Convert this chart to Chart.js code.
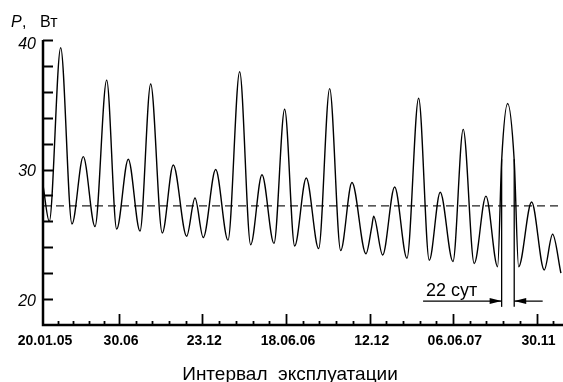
<!DOCTYPE html>
<html>
<head>
<meta charset="utf-8">
<script src="https://cdn.jsdelivr.net/npm/chart.js@4.4.0/dist/chart.umd.min.js"></script>
<style>
  html, body { margin: 0; padding: 0; background: #fff; }
  #wrap { width: 563px; height: 382px; position: relative; }
</style>
</head>
<body>
<div id="wrap"><canvas id="chart"></canvas></div>
<script>
const days = [0, 13.3, 37.4, 61.3, 85.2, 110, 134.7, 155.9, 180.4, 205.2,
  227.8, 252.3, 275.6, 303.9, 321.5, 339, 365.3, 391.3, 416, 439.3,
  463.2, 488.6, 511.2, 532.4, 556.9, 583.1, 606.4, 629.7, 653.6, 683.2,
  695.5, 699.4, 718.5, 743.9, 769.9, 794.6, 817.1, 840.3, 867.2, 888.9,
  912.2, 937, 961.7, 970.2, 982.9, 996.8, 1006.1, 1033.6, 1060.3, 1078, 1095.6];
const power = [28.8, 26.0, 39.4, 25.8, 31.0, 25.6, 36.9, 25.4, 30.8, 25.25,
  36.6, 25.1, 30.35, 24.85, 27.8, 24.75, 30.0, 24.55, 37.55, 24.2,
  29.6, 24.3, 34.65, 24.1, 29.35, 23.9, 36.25, 23.75, 29.0, 23.5,
  25.6, 26.4, 23.4, 28.65, 23.15, 35.5, 23.0, 28.25, 22.9, 33.1,
  22.75, 27.95, 22.5, 30.7, 35.1, 30.7, 22.5, 27.5, 22.25, 25.0, 22.0];
const meanPower = 27.2;

const tickDays = [0, 161, 337, 514, 691, 867, 1044];
const tickLabels = ["20.01.05", "30.06", "23.12", "18.06.06", "12.12", "06.06.07", "30.11"];
const yLabels = [20, 30, 40];

const periodMarks = [970.2, 996.8];
const periodText = "22 сут";

const FONT = "'Liberation Sans', Arial, sans-serif";

const axesPlugin = {
  id: "axesPlugin",
  afterDraw(chart) {
    const { ctx, chartArea: a, scales: { x, y } } = chart;
    ctx.save();
    ctx.strokeStyle = "#000";
    ctx.fillStyle = "#000";

    // axis lines
    ctx.lineWidth = 2.5;
    ctx.beginPath();
    ctx.moveTo(a.left, a.top);
    ctx.lineTo(a.left, a.bottom);
    ctx.lineTo(a.right, a.bottom);
    ctx.stroke();

    // y ticks (inward)
    ctx.lineWidth = 2;
    for (let v = 20; v <= 40; v += 2) {
      const py = Math.round(y.getPixelForValue(v)) + 0.5;
      ctx.beginPath();
      ctx.moveTo(a.left, py);
      ctx.lineTo(a.left + 10, py);
      ctx.stroke();
    }

    // x ticks: major + 4 minor per interval
    const minor = [];
    for (let i = 0; i < tickDays.length - 1; i++) {
      const step = (tickDays[i + 1] - tickDays[i]) / 5;
      for (let k = 1; k < 5; k++) minor.push(tickDays[i] + k * step);
    }
    const lastStep = (tickDays[tickDays.length - 1] - tickDays[tickDays.length - 2]) / 5;
    for (let d = tickDays[tickDays.length - 1] + lastStep; d < x.max; d += lastStep) minor.push(d);
    ctx.lineWidth = 1.8;
    minor.forEach(d => {
      const px = Math.round(x.getPixelForValue(d)) + 0.5;
      ctx.beginPath();
      ctx.moveTo(px, a.bottom);
      ctx.lineTo(px, a.bottom - 4);
      ctx.stroke();
    });
    tickDays.slice(1).forEach(d => {
      const px = Math.round(x.getPixelForValue(d)) + 0.5;
      ctx.beginPath();
      ctx.moveTo(px, a.bottom);
      ctx.lineTo(px, a.bottom - 11);
      ctx.stroke();
    });

    // x tick labels
    ctx.font = "bold 14px " + FONT;
    ctx.textAlign = "center";
    ctx.textBaseline = "middle";
    tickDays.forEach((d, i) => {
      ctx.fillText(tickLabels[i], x.getPixelForValue(d) + 2, a.bottom + 16);
    });

    // y tick labels
    ctx.font = "italic 16px " + FONT;
    ctx.textAlign = "right";
    yLabels.forEach(v => {
      const off = v === 40 ? 5 : 2;
      ctx.fillText(String(v), 36, y.getPixelForValue(v) + off);
    });

    // y title
    ctx.textAlign = "left";
    ctx.textBaseline = "alphabetic";
    ctx.font = "italic 16px " + FONT;
    ctx.fillText("P", 11, 27);
    ctx.font = "16px " + FONT;
    ctx.fillText(",", 22, 27);
    ctx.fillText("Вт", 40, 27);

    // x title
    ctx.font = "19px " + FONT;
    ctx.textAlign = "center";
    ctx.fillText("Интервал  эксплуатации", 290, 380);

    // period annotation
    const x1 = x.getPixelForValue(periodMarks[0]);
    const x2 = x.getPixelForValue(periodMarks[1]);
    const yTop = y.getPixelForValue(30.8);
    const yBot = y.getPixelForValue(19.4);
    const yArr = y.getPixelForValue(19.85);
    ctx.lineWidth = 1.3;
    [x1, x2].forEach(px => {
      ctx.beginPath();
      ctx.moveTo(px, yTop);
      ctx.lineTo(px, yBot);
      ctx.stroke();
    });
    ctx.beginPath();
    ctx.moveTo(x.getPixelForValue(804), yArr);
    ctx.lineTo(x1, yArr);
    ctx.moveTo(x2, yArr);
    ctx.lineTo(x.getPixelForValue(1057), yArr);
    ctx.stroke();
    ctx.beginPath();
    ctx.moveTo(x1, yArr);
    ctx.lineTo(x1 - 12, yArr - 3);
    ctx.lineTo(x1 - 12, yArr + 3);
    ctx.closePath();
    ctx.moveTo(x2, yArr);
    ctx.lineTo(x2 + 12, yArr - 3);
    ctx.lineTo(x2 + 12, yArr + 3);
    ctx.closePath();
    ctx.fill();

    ctx.font = "18px " + FONT;
    ctx.textAlign = "left";
    ctx.fillText(periodText, x.getPixelForValue(810), 296);
    ctx.restore();
  }
};

new Chart(document.getElementById("chart"), {
  type: "line",
  data: {
    datasets: [
      {
        data: days.map((d, i) => ({ x: d, y: power[i] })),
        borderColor: "#000",
        borderWidth: 1.4,
        pointRadius: 0,
        cubicInterpolationMode: "monotone",
        fill: false
      },
      {
        data: [{ x: 0, y: meanPower }, { x: 1100, y: meanPower }],
        borderColor: "#222",
        borderWidth: 1.3,
        borderDash: [8, 5],
        pointRadius: 0,
        fill: false
      }
    ]
  },
  options: {
    responsive: true,
    maintainAspectRatio: false,
    animation: false,
    layout: { padding: { left: 43, top: 40, right: 0, bottom: 57 } },
    plugins: { legend: { display: false }, tooltip: { enabled: false } },
    scales: {
      x: { type: "linear", min: 0, max: 1100, display: false },
      y: { min: 18, max: 40, display: false }
    }
  },
  plugins: [axesPlugin]
});
</script>
</body>
</html>
